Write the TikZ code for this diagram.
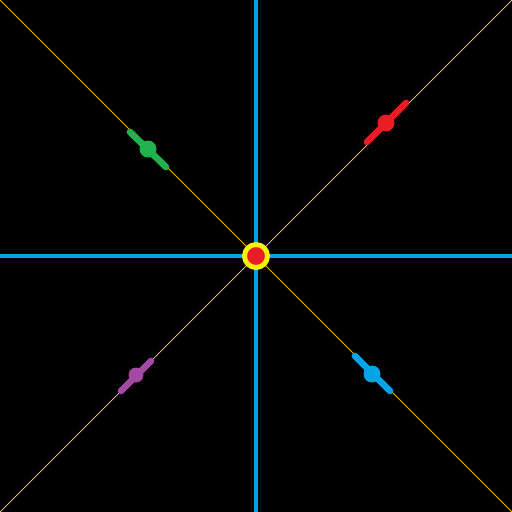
\documentclass[tikz,border=0pt]{standalone}
\usepackage{tikz}
\usetikzlibrary{backgrounds}
\definecolor{axisblue}{RGB}{0,160,230}
\definecolor{diagorange}{RGB}{255,176,0}
\definecolor{diaglight}{RGB}{255,214,140}
\definecolor{dotred}{RGB}{237,28,36}
\definecolor{dotgreen}{RGB}{34,177,76}
\definecolor{dotpurple}{RGB}{163,73,164}
\definecolor{dotblue}{RGB}{0,162,232}
\definecolor{ringyellow}{RGB}{255,242,0}

\begin{document}
\begin{tikzpicture}[x=0.02cm, y=-0.02cm,
axis/.style={draw=axisblue, line width=2.8pt},
diag/.style={draw=diagorange, line width=0.5pt},
seg/.style={line width=3.8pt, line cap=round},
dot/.style={circle, inner sep=0pt, minimum size=0.34cm},
hub/.style={circle, inner sep=0pt, minimum size=0.46cm, fill=dotred, draw=ringyellow, line width=2.8pt}
]
\fill[black] (0,0) rectangle (512,512);
\useasboundingbox (0,0) rectangle (512,512);

% corners and axis ends
\coordinate (tl) at (0,0);
\coordinate (tr) at (512,0);
\coordinate (bl) at (0,512);
\coordinate (br) at (512,512);
\coordinate (top) at (256,0);
\coordinate (bot) at (256,512);
\coordinate (lft) at (0,256);
\coordinate (rgt) at (512,256);

\draw[diag] (tl) -- (br);
\draw[diag, draw=diaglight, line width=0.4pt] (bl) -- (tr);
\draw[axis] (top) -- (bot);
\draw[axis] (lft) -- (rgt);

% segments on the diagonals
\coordinate (r1) at (367,142);
\coordinate (r2) at (406,103);
\coordinate (g1) at (130,132);
\coordinate (g2) at (166,167);
\coordinate (p1) at (121,391);
\coordinate (p2) at (151,361);
\coordinate (b1) at (355,356);
\coordinate (b2) at (390,391);

\draw[seg, dotred] (r1) -- (r2);
\draw[seg, dotgreen] (g1) -- (g2);
\draw[seg, dotpurple] (p1) -- (p2);
\draw[seg, dotblue] (b1) -- (b2);

\node[dot, fill=dotred] (rdot) at (386,123) {};
\node[dot, fill=dotgreen] (gdot) at (148,149) {};
\node[dot, fill=dotpurple, minimum size=0.30cm] (pdot) at (136,375) {};
\node[dot, fill=dotblue] (bdot) at (372,374) {};

\node[hub] (hub) at (256,256) {};
\end{tikzpicture}
\end{document}
